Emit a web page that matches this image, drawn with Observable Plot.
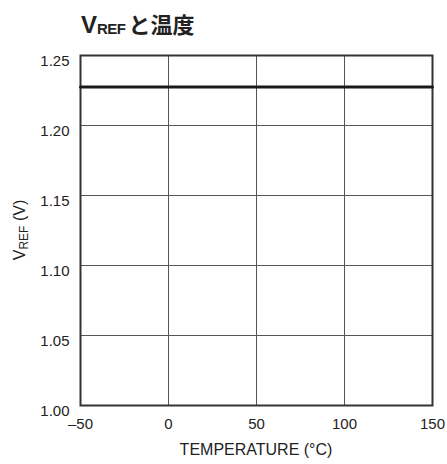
<!DOCTYPE html>
<html>
<head>
<meta charset="utf-8">
<script src="https://cdn.jsdelivr.net/npm/d3@7"></script>
<script src="https://cdn.jsdelivr.net/npm/@observablehq/plot@0.6"></script>
<style>
  html, body { margin: 0; padding: 0; background: #fff; }
  #wrap { width: 447px; height: 464px; position: relative; }
  #title {
    height: 44px; box-sizing: border-box; padding: 12px 0 0 81px;
    font-family: "Liberation Sans Narrow", "Liberation Sans", sans-serif;
    font-weight: bold; font-size: 24px; color: #222; line-height: 1; white-space: nowrap;
  }
  #title .jp { font-family: "Noto Sans CJK JP", sans-serif; font-weight: bold; font-size: 22px; margin-left: 3px; }
  #title sub { font-size: 15px; vertical-align: baseline; position: relative; top: 1px; letter-spacing: -0.5px; }
</style>
</head>
<body>
<div id="wrap">
  <div id="title">V<sub>REF</sub><span class="jp">と温度</span></div>
  <div id="chart"></div>
</div>
<script>
// Reference voltage versus temperature
const temperature = [-50, 0, 50, 100, 150];
const vref = [1.2275, 1.2275, 1.2275, 1.2275, 1.2275];
const xTicks = [-50, 0, 50, 100, 150];
const yTicks = [1.00, 1.05, 1.10, 1.15, 1.20, 1.25];

const data = temperature.map((t, i) => ({t, v: vref[i]}));
const font = '"Liberation Sans Narrow", "Arial Narrow", "Liberation Sans", sans-serif';

const plot = Plot.plot({
  width: 447,
  height: 420,
  marginTop: 11,
  marginBottom: 59,
  marginLeft: 80,
  marginRight: 15,
  style: {fontFamily: font, fontSize: "15px", color: "#222", background: "#fff"},
  x: {domain: [-50, 150], ticks: xTicks, tickFormat: d => d < 0 ? "\u2013" + Math.abs(d) : String(d), tickSize: 0, tickPadding: 13, label: null},
  y: {domain: [1.00, 1.25], ticks: yTicks, tickFormat: d3.format(".2f"), tickSize: 0, tickPadding: 11, label: null},
  marks: [
    Plot.gridX(xTicks, {stroke: "#555", strokeOpacity: 1, strokeWidth: 1}),
    Plot.gridY(yTicks, {stroke: "#555", strokeOpacity: 1, strokeWidth: 1}),
    Plot.frame({stroke: "#333", strokeWidth: 2}),
    Plot.line(data, {x: "t", y: "v", stroke: "#1a1a1a", strokeWidth: 3})
  ]
});

const svg = d3.select(plot);
svg.selectAll("g[aria-label='y-axis tick label'] text").attr("dy", "0.38em");
// Axis titles
svg.append("text")
  .attr("x", 80 + (447 - 80 - 15) / 2).attr("y", 411)
  .attr("text-anchor", "middle")
  .attr("font-family", font).attr("font-size", 16).attr("fill", "#222")
  .text("TEMPERATURE (°C)");
const yl = svg.append("text")
  .attr("transform", `translate(25, ${11 + 175}) rotate(-90)`)
  .attr("text-anchor", "middle")
  .attr("font-family", font).attr("font-size", 16).attr("fill", "#222");
yl.append("tspan").text("V");
yl.append("tspan").attr("font-size", 12).attr("dy", 3).text("REF");
yl.append("tspan").attr("dy", -3).text(" (V)");

document.getElementById("chart").appendChild(plot);
</script>
</body>
</html>
